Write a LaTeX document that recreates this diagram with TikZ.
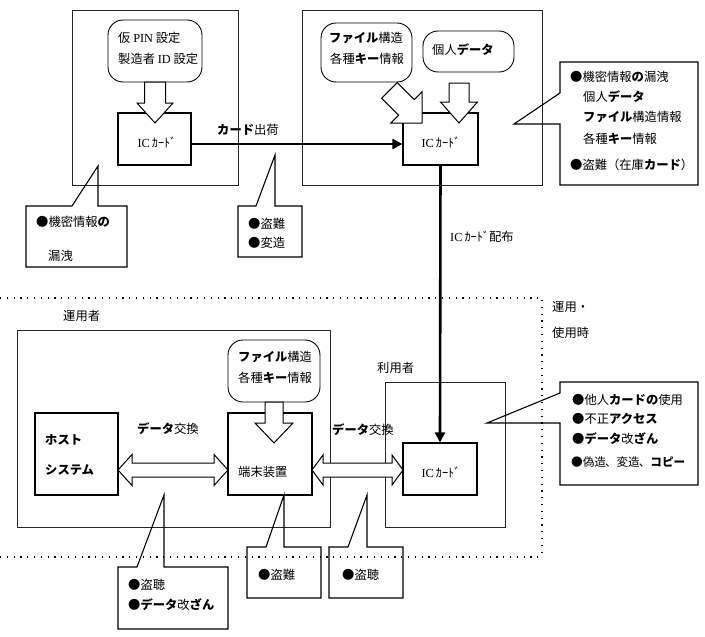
\documentclass[tikz,border=0pt]{standalone}
\usepackage{fontspec}
\setmainfont{Noto Sans CJK JP}
\newfontfamily\serifl{Liberation Serif}
\usetikzlibrary{arrows.meta}
\newcommand\kbf[1]{{\bfseries #1}}
\newcommand\ICc{{\serifl IC}\,ｶｰﾄﾞ}
% block down arrow: cx, top, headstart, tip, shaft half, head half
\newcommand\blkdown[6]{%
  \draw[blk] (#1-#5,#2) -- (#1+#5,#2) -- (#1+#5,#3) -- (#1+#6,#3) -- (#1,#4) -- (#1-#6,#3) -- (#1-#5,#3) -- cycle;}
% double block arrow: x1, x2, yc, head length, head half, shaft half
\newcommand\dblarrow[6]{%
  \draw[blk] (#1,#3) -- (#1+#4,#3-#5) -- (#1+#4,#3-#6) -- (#2-#4,#3-#6) -- (#2-#4,#3-#5) -- (#2,#3)
   -- (#2-#4,#3+#5) -- (#2-#4,#3+#6) -- (#1+#4,#3+#6) -- (#1+#4,#3+#5) -- cycle;}
\begin{document}
\begin{tikzpicture}[x=1pt,y=-1pt,
  every node/.style={inner sep=0pt, font=\fontsize{12.3}{14}\selectfont},
  region/.style={draw=black!85, line width=0.8pt},
  card/.style={draw, line width=1.2pt},
  rbox/.style={draw, line width=0.9pt, rounded corners=15pt},
  txt/.style={anchor=west},
  callout/.style={draw, line width=1.1pt, line join=miter},
  blk/.style={draw, fill=white, line width=1pt, line join=miter},
  flow/.style={line width=2.6pt, -{Triangle[length=10pt,width=10pt]}},
  sepline/.style={line width=1.2pt, dash pattern=on 1.2pt off 5.6pt}
]
\useasboundingbox (0,0) rectangle (705,637);

% separator (dotted)
\draw[sepline] (0,298) -- (542,298) -- (542,557);
\draw[sepline] (0,557) -- (542,557);

% ---------- top left ----------
\node[region, minimum width=166, minimum height=175] (tl) at (155,97.5) {};
\node[rbox, minimum width=94, minimum height=62] (r1) at (155,51) {};
\node[txt] (t1) at (118,38) {仮 {\serifl PIN} 設定};
\node[txt] (t2) at (118,59) {製造者 {\serifl ID} 設定};
\node[card, minimum width=73, minimum height=52] (c1) at (154.5,139) {};
\node (t3) at (157,142) {\ICc};
\blkdown{155}{82}{103}{123}{10.5}{18}

% ---------- top right ----------
\node[region, minimum width=240, minimum height=175] (tr) at (422,97.5) {};
\node[rbox, minimum width=91, minimum height=59] (r2) at (366.5,52.5) {};
\node[txt] (t4) at (329,38) {\kbf{ファイル}構造};
\node[txt] (t5) at (330,59) {各種\kbf{キー}情報};
\node[rbox, minimum width=91, minimum height=41] (r3) at (468.5,51.5) {};
\node[txt] (t6) at (432,50) {個人\kbf{データ}};
\node[card, minimum width=75, minimum height=52] (c2) at (440.5,139) {};
\node (t7) at (441,142) {\ICc};
\blkdown{459}{83}{102}{123}{10}{18.5}
\draw[blk] (422,123) -- (422,91.88) -- (414.22,99.66) -- (397.25,82.69) -- (381.69,98.25)
  -- (398.66,115.22) -- (390.88,123) -- cycle;

% shipping arrow
\node[txt] (t8) at (217,130) {\kbf{カード}出荷};
\draw[flow] ([yshift=-5pt]c1.east) -- ([yshift=-5pt]c2.west);

% callouts top
\draw[callout] (26,206) -- (72,206) -- (98,166) -- (98,206) -- (127,206) -- (127,267) -- (26,267) -- cycle;
\node[txt] (t9) at (36,222) {●機密情報\kbf{の}};
\node[txt] (t10) at (48,256) {漏洩};
\draw[callout] (238,206) -- (256,206) -- (275,155) -- (275,206) -- (302,206) -- (302,257) -- (238,257) -- cycle;
\node[txt] (t11) at (248,224) {●盗難};
\node[txt] (t12) at (248,243) {●変造};
\draw[callout] (560,62) -- (698,62) -- (698,185) -- (560,185) -- (560,124) -- (514,124) -- (560,93) -- cycle;
\node[txt] (t13) at (570,77) {●機密情報\kbf{の}漏洩};
\node[txt] (t14) at (583,97) {個人\kbf{データ}};
\node[txt] (t15) at (583,117) {\kbf{ファイル}構造情報};
\node[txt] (t16) at (583,139) {各種\kbf{キー}情報};
\node[txt] (t17) at (570,165) {●盗難（在庫\kbf{カード}）};

% distribution
\node[txt] (t18) at (450,237) {\ICc 配布};
\node[txt] (t19) at (552,307) {運用・};
\node[txt] (t20) at (552,333) {使用時};

% ---------- bottom ----------
\node[txt] (t21) at (63,316) {運用者};
\node[region, minimum width=313, minimum height=197] (op) at (173.5,428.5) {};
\node[card, minimum width=83, minimum height=82] (host) at (76.5,454) {};
\node[txt] (t22) at (45,440) {\kbf{ホスト}};
\node[txt] (t23) at (45,470) {\kbf{システム}};
\node[card, minimum width=84, minimum height=82] (term) at (270,454) {};
\node[txt] (t24) at (238,472) {端末装置};
\node[rbox, minimum width=92, minimum height=62] (r4) at (274,371) {};
\node[txt] (t25) at (238,357) {\kbf{ファイル}構造};
\node[txt] (t26) at (238,378) {各種\kbf{キー}情報};
\blkdown{274}{402}{423}{443}{9}{19}
\node[txt] (t27) at (137,429) {\kbf{データ}交換};

\node[txt] (t28) at (377,368) {利用者};
\node[region, minimum width=120, minimum height=145] (ub) at (445,454.5) {};
\node[card, minimum width=74, minimum height=52] (c3) at (440,469) {};
\node (t29) at (441,472) {\ICc};
\node[txt] (t30) at (332,430) {\kbf{データ}交換};

\dblarrow{118}{228}{470}{14}{15.5}{7}
\dblarrow{312}{403}{470}{11}{15}{7}

\draw[flow] (c2.south) -- (c3.north);

% callouts bottom
\draw[callout] (560,382) -- (698,382) -- (698,485) -- (560,485) -- (560,423) -- (487,423) -- (560,393) -- cycle;
\node[txt] (t31) at (572,400) {●他人\kbf{カードの}使用};
\node[txt] (t32) at (572,419) {●不正\kbf{アクセス}};
\node[txt] (t33) at (572,439) {●\kbf{データ}改\kbf{ざん}};
\node[txt, font=\fontsize{11.6}{14}\selectfont] (t34) at (571,462) {●偽造\kern-1pt、変造\kern-1pt、\kbf{コピー}};

\draw[callout] (118,567) -- (137,567) -- (164,495) -- (164,567) -- (228,567) -- (228,629) -- (118,629) -- cycle;
\node[txt] (t35) at (128,585) {●盗聴};
\node[txt] (t36) at (128,605) {●\kbf{データ}改\kbf{ざん}};
\draw[callout] (247,547) -- (266,547) -- (284,495) -- (284,547) -- (321,547) -- (321,598) -- (247,598) -- cycle;
\node[txt] (t37) at (258,575) {●盗難};
\draw[callout] (329,547) -- (348,547) -- (367,495) -- (367,547) -- (403,547) -- (403,598) -- (329,598) -- cycle;
\node[txt] (t38) at (342,575) {●盗聴};
\end{tikzpicture}
\end{document}
